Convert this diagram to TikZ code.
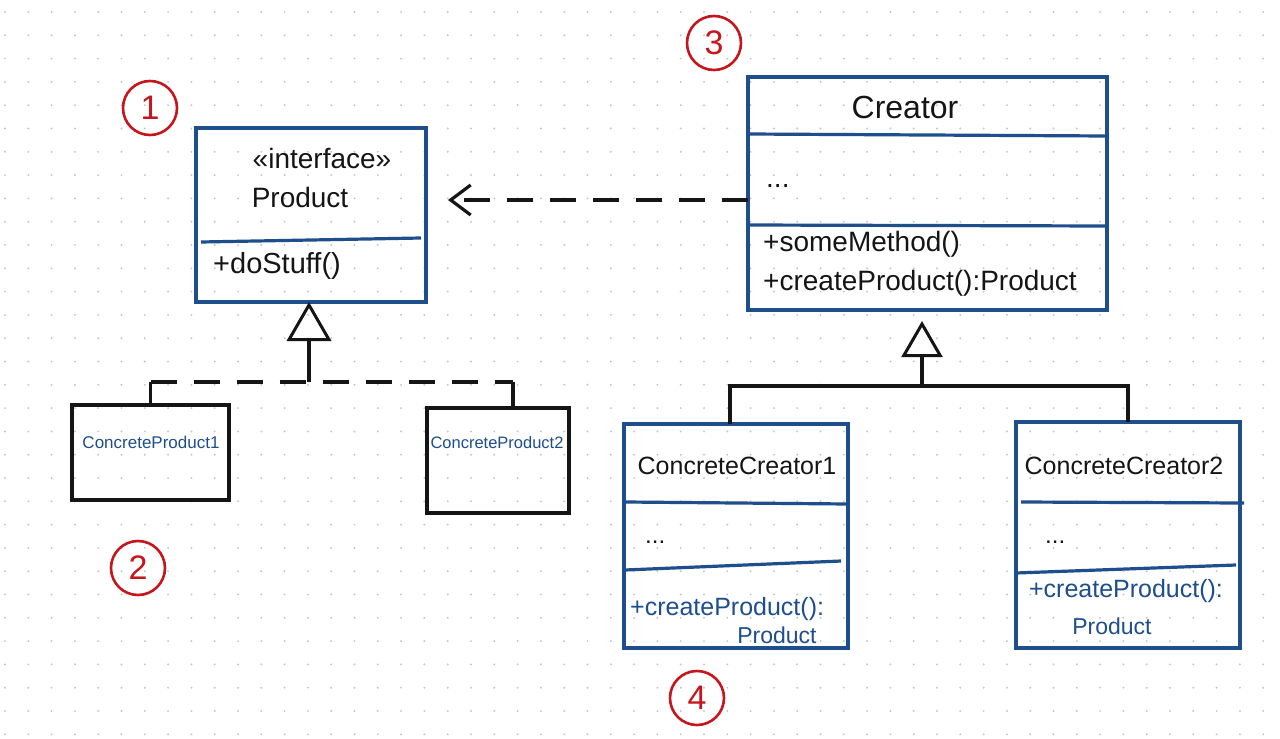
\documentclass[tikz,border=0pt]{standalone}
\usepackage{fontspec}
\setmainfont{Liberation Sans}
\usetikzlibrary{arrows.meta,shapes.geometric}
\definecolor{umlblue}{HTML}{1F4E8C}
\definecolor{ink}{HTML}{151515}
\definecolor{markred}{HTML}{C4161C}
\definecolor{gridgray}{HTML}{C8C8C8}
\newcommand{\myfs}[1]{\fontsize{#1}{#1}\selectfont}
\begin{document}
\begin{tikzpicture}[x=1pt,y=-1pt,
  box/.style={draw=umlblue, line width=3.2pt, rectangle, inner sep=0pt, outer sep=0pt, anchor=north west},
  plainbox/.style={draw=ink, line width=3.2pt, rectangle, inner sep=0pt, outer sep=0pt, anchor=north west},
  div/.style={draw=umlblue, line width=3.2pt},
  txt/.style={inner sep=0pt, text=ink},
  btxt/.style={inner sep=0pt, text=umlblue},
  tri/.style={draw=ink, line width=3pt, regular polygon, regular polygon sides=3, minimum size=46pt, inner sep=0pt, outer sep=0pt, anchor=north},
  conn/.style={draw=ink, line width=3.2pt},
  dsh/.style={conn, dash pattern=on 26pt off 17pt},
  badge/.style={circle, draw=markred, line width=2.6pt, minimum size=54pt, inner sep=0pt, text=markred, font=\myfs{34}}
]
\useasboundingbox (0,0) rectangle (1280,739);
\fill[white] (0,0) rectangle (1280,739);
% dot grid
\foreach \i in {0,...,54}{
  \foreach \j in {0,...,31}{
    \fill[gridgray] (5+\i*23.3,12+\j*23.3) circle (1.1pt);
  }
}

% Product interface
\node[box, minimum width=230pt, minimum height=174pt] (product) at (196,128) {};
\draw[div] (201,242) -- (421,238);
\node[txt, font=\myfs{28}] (pstereo) at (322,158) {«interface»};
\node[txt, font=\myfs{28}] (pname) at (300,197) {Product};
\node[txt, font=\myfs{29}, anchor=west] (pop) at (213,266) {+doStuff()};

% Concrete products
\node[plainbox, minimum width=157pt, minimum height=95pt] (cp1) at (72,405) {};
\node[btxt, font=\myfs{17}] (cp1name) at (151,442) {ConcreteProduct1};
\node[plainbox, minimum width=142pt, minimum height=105pt] (cp2) at (427,408) {};
\node[btxt, font=\myfs{16.5}] (cp2name) at (497,443) {ConcreteProduct2};

% Creator
\node[box, minimum width=359pt, minimum height=233pt] (creator) at (748,77) {};
\draw[div] (748,134) -- (1107,136);
\draw[div] (748,225) -- (1107,226);
\node[txt, font=\myfs{32}] (cname) at (905,107) {Creator};
\node[txt, font=\myfs{28}, anchor=west] (cattr) at (766,186) {...};
\node[txt, font=\myfs{28}, anchor=west] (cop1) at (763,244) {+someMethod()};
\node[txt, font=\myfs{28}, anchor=west] (cop2) at (763,283) {+createProduct():Product};

% Concrete creators
\node[box, minimum width=224pt, minimum height=224pt] (cc1) at (624,424) {};
\draw[div] (626,502) -- (848,504);
\draw[div] (625,570) -- (841,561);
\node[txt, font=\myfs{25}] (cc1name) at (737,466) {ConcreteCreator1};
\node[txt, font=\myfs{24}, anchor=west] (cc1attr) at (645,542) {...};
\node[btxt, font=\myfs{25}, anchor=west] (cc1op) at (630,609) {+createProduct():};
\node[btxt, font=\myfs{23}] (cc1ret) at (777,635) {Product};

\node[box, minimum width=224pt, minimum height=226pt] (cc2) at (1016,422) {};
\draw[div] (1021,502) -- (1244,503);
\draw[div] (1016,573) -- (1236,565);
\node[txt, font=\myfs{25}] (cc2name) at (1124,466) {ConcreteCreator2};
\node[txt, font=\myfs{24}, anchor=west] (cc2attr) at (1045,542) {...};
\node[btxt, font=\myfs{25}] (cc2op) at (1126,591) {+createProduct():};
\node[btxt, font=\myfs{23}] (cc2ret) at (1112,626) {Product};

% Realization: products
\node[tri] (ptri) at (309,305) {};
\coordinate (pj) at (309,382);
\coordinate (cp2top) at ([xshift=15pt]cp2.north);
\draw[conn] (ptri.south) -- (pj);
\draw[conn] (cp1.north) -- (cp1.north |- pj);
\draw[conn] (cp2top) -- (cp2top |- pj);
\draw[dsh] (cp1.north |- pj) -- (cp2top |- pj);

% Dependency: Creator -> Product
\coordinate (ay) at (600,200);
\draw[dsh, -{Straight Barb[length=20pt,width=30pt]}, shorten >=22pt] (creator.west |- ay) -- (product.east |- ay);

% Inheritance: creators
\node[tri, minimum size=42pt] (ctri) at (922,324) {};
\coordinate (cj) at (922,386);
\coordinate (cc1top) at ([xshift=-6pt]cc1.north);
\draw[conn] (ctri.south) -- (cj);
\draw[conn] (cc1top) -- (cc1top |- cj) -- (cc2.north |- cj) -- (cc2.north);

% Numbered markers
\node[badge] (n1) at (150,108) {1};
\node[badge] (n2) at (138,568) {2};
\node[badge] (n3) at (714,43) {3};
\node[badge] (n4) at (697,698) {4};
\end{tikzpicture}
\end{document}
